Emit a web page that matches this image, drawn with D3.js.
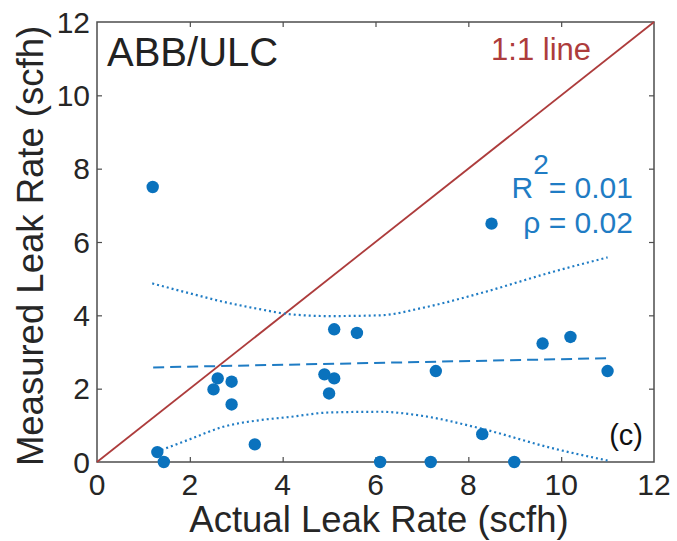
<!DOCTYPE html>
<html lang="en">
<head>
    <meta charset="UTF-8">
    <title>ABB/ULC leak rate</title>
    <script src="https://d3js.org/d3.v7.min.js"></script>
    <style>
        body { margin: 0; background: #fff; }
        text { font-family: "Liberation Sans", Arial, sans-serif; }
    </style>
</head>
<body>
    <svg width="677" height="541"></svg>
    <script>
        // measured points (scfh)
        const actualRate   = [1.2, 8.5, 1.3, 1.44, 2.6, 2.9, 2.51, 2.9, 3.4, 5.11, 5.6, 4.9, 5.11, 5.0, 6.1, 9.6, 10.2, 7.3, 11.0, 8.3, 7.19, 8.99];
        const measuredRate = [7.5, 6.5, 0.27, 0.0, 2.28, 2.19, 1.98, 1.57, 0.48, 3.62, 3.52, 2.39, 2.28, 1.87, 0.0, 3.23, 3.41, 2.48, 2.48, 0.76, 0.0, 0.0];

        // fit line and bounds
        const fitX = [1.21, 11.0];
        const fitY = [2.58, 2.83];
        const upperX = [1.19, 2, 2.72, 3.5, 4.16, 5, 6.1, 7, 8.25, 9.83, 11.0];
        const upperY = [4.87, 4.6, 4.37, 4.17, 4.03, 3.98, 4.0, 4.2, 4.6, 5.19, 5.58];
        const lowerX = [1.39, 2, 2.72, 3.5, 4.16, 5, 6.1, 7, 8.25, 9.83, 11.0];
        const lowerY = [0.33, 0.62, 0.96, 1.14, 1.23, 1.35, 1.37, 1.26, 0.92, 0.37, 0.04];

        const oneToOne = [0, 12];
        const ticks = [0, 2, 4, 6, 8, 10, 12];

        const svg = d3.select('svg');
        const margin = {top: 22, right: 23, bottom: 79, left: 97};
        const width = 677 - margin.left - margin.right;
        const height = 541 - margin.top - margin.bottom;

        const x = d3.scaleLinear().domain([0, 12]).range([margin.left, margin.left + width]);
        const y = d3.scaleLinear().domain([0, 12]).range([margin.top + height, margin.top]);

        const axisColor = '#4d4d4d';
        const textColor = '#262626';
        const blue = '#0a72bd';
        const red = '#ad3c3c';

        // box
        svg.append('rect')
            .attr('x', x(0)).attr('y', y(12))
            .attr('width', width).attr('height', height)
            .attr('fill', 'none').attr('stroke', axisColor).attr('stroke-width', 1.5);

        // inward ticks on all four sides
        const inner = ticks.slice(1, -1);
        svg.append('g').attr('transform', `translate(0,${y(0)})`)
            .call(d3.axisBottom(x).tickValues(inner).tickSize(-5).tickFormat(''))
            .call(g => g.select('.domain').remove());
        svg.append('g').attr('transform', `translate(0,${y(12)})`)
            .call(d3.axisTop(x).tickValues(inner).tickSize(-5).tickFormat(''))
            .call(g => g.select('.domain').remove());
        svg.append('g').attr('transform', `translate(${x(0)},0)`)
            .call(d3.axisLeft(y).tickValues(inner).tickSize(-5).tickFormat(''))
            .call(g => g.select('.domain').remove());
        svg.append('g').attr('transform', `translate(${x(12)},0)`)
            .call(d3.axisRight(y).tickValues(inner).tickSize(-5).tickFormat(''))
            .call(g => g.select('.domain').remove());
        svg.selectAll('.tick line').attr('stroke', axisColor).attr('stroke-width', 1.2);

        // tick labels
        svg.append('g').selectAll('text').data(ticks).join('text')
            .attr('x', d => x(d)).attr('y', 495)
            .attr('text-anchor', 'middle')
            .attr('font-size', 30).attr('fill', textColor)
            .text(d => d);
        svg.append('g').selectAll('text').data(ticks).join('text')
            .attr('x', 90).attr('y', d => y(d))
            .attr('dy', '0.36em')
            .attr('text-anchor', 'end')
            .attr('font-size', 30).attr('fill', textColor)
            .text(d => d);

        // axis titles
        svg.append('text')
            .attr('x', 379).attr('y', 532)
            .attr('text-anchor', 'middle')
            .attr('font-size', 36.5).attr('fill', textColor)
            .text('Actual Leak Rate (scfh)');
        svg.append('text')
            .attr('transform', 'translate(43,246) rotate(-90)')
            .attr('text-anchor', 'middle')
            .attr('font-size', 36.5).attr('fill', textColor)
            .text('Measured Leak Rate (scfh)');

        // 1:1 line
        svg.append('line')
            .attr('x1', x(oneToOne[0])).attr('y1', y(oneToOne[0]))
            .attr('x2', x(oneToOne[1])).attr('y2', y(oneToOne[1]))
            .attr('stroke', red).attr('stroke-width', 1.8);

        const line = d3.line()
            .x(d => x(d[0]))
            .y(d => y(d[1]))
            .curve(d3.curveMonotoneX);

        // bounds
        svg.append('path')
            .attr('d', line(d3.zip(upperX, upperY)))
            .attr('fill', 'none').attr('stroke', '#1f7cc4')
            .attr('stroke-width', 2.2).attr('stroke-dasharray', '2,3');
        svg.append('path')
            .attr('d', line(d3.zip(lowerX, lowerY)))
            .attr('fill', 'none').attr('stroke', '#1f7cc4')
            .attr('stroke-width', 2.2).attr('stroke-dasharray', '2,3');

        // fit
        svg.append('path')
            .attr('d', line(d3.zip(fitX, fitY)))
            .attr('fill', 'none').attr('stroke', '#1f7cc4')
            .attr('stroke-width', 2).attr('stroke-dasharray', '11,6');

        // points
        svg.append('g').selectAll('circle').data(d3.zip(actualRate, measuredRate)).join('circle')
            .attr('cx', d => x(d[0])).attr('cy', d => y(d[1]))
            .attr('r', 6.2).attr('fill', blue);

        // labels
        svg.append('text')
            .attr('x', 107).attr('y', 66)
            .attr('font-size', 40).attr('fill', '#222')
            .text('ABB/ULC');
        svg.append('text')
            .attr('x', 591).attr('y', 60)
            .attr('text-anchor', 'end')
            .attr('font-size', 31).attr('fill', red)
            .text('1:1 line');

        const stat = svg.append('text')
            .attr('x', 633).attr('y', 198)
            .attr('text-anchor', 'end')
            .attr('font-size', 30).attr('fill', '#1f7cc4');
        stat.append('tspan').text('R');
        stat.append('tspan').attr('dy', -24).attr('font-size', 28).text('2');
        stat.append('tspan').attr('dy', 24).text('= 0.01');

        svg.append('text')
            .attr('x', 633).attr('y', 233)
            .attr('text-anchor', 'end')
            .attr('font-size', 30).attr('fill', '#1f7cc4')
            .text('\u03c1 = 0.02');

        svg.append('text')
            .attr('x', 643).attr('y', 445)
            .attr('text-anchor', 'end')
            .attr('font-size', 29).attr('fill', '#111')
            .text('(c)');
    </script>
</body>
</html>
